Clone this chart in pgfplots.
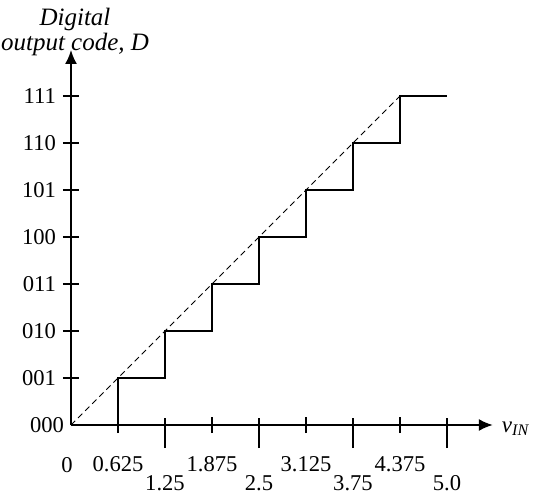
\documentclass[border=0pt]{standalone}
\usepackage{fontspec}
\setmainfont{Liberation Serif}
\usepackage{pgfplots}
\pgfplotsset{compat=1.18}
\usetikzlibrary{arrows.meta}
\begin{document}
\begin{tikzpicture}
\begin{axis}[
  at={(0,0)}, anchor=origin,
  x=37.6pt, y=23.5pt,
  xmin=0, xmax=5.61, ymin=0, ymax=7.98,
  axis lines=left,
  axis line style={line width=1pt, -{Latex[length=7pt,width=6pt]}},
  clip=false,
  tick align=center,
  tick style={black, line width=0.8pt},
  major tick length=8pt,
  ytick={1,...,7},
  yticklabels={001,010,011,100,101,110,111},
  extra y ticks={0},
  extra y tick labels={000},
  extra y tick style={major tick length=0pt},
  yticklabel style={anchor=east, xshift=0pt},
  xtick={0.625,1.875,3.125,4.375},
  xticklabels={0.625,1.875,3.125,4.375},
  xticklabel style={anchor=center, yshift=-15.5pt},
  extra x ticks={1.25,2.5,3.75,5},
  extra x tick labels={1.25,2.5,3.75,5.0},
  extra x tick style={major tick length=15pt, major tick style={yshift=-4pt},
     xticklabel style={yshift=-6pt}},
  ticklabel style={font=\fontsize{11.3}{11}\selectfont},
  xlabel={\textit{v}\textsubscript{\textit{IN}}},
  xlabel style={at={(axis description cs:1,0)}, anchor=base west, xshift=1pt, yshift=-3.5pt, font=\fontsize{11.5}{11}\selectfont},
  ylabel={\textit{Digital}\\\textit{output code, D}},
  ylabel style={at={(axis description cs:0,1)}, rotate=-90, anchor=south, align=center, inner sep=0pt, xshift=2pt, yshift=-3pt, font=\fontsize{12.5}{10}\selectfont},
]
\addplot[black, line width=1pt] coordinates {
 (0.625,0) (0.625,1) (1.25,1) (1.25,2) (1.875,2) (1.875,3) (2.5,3) (2.5,4)
 (3.125,4) (3.125,5) (3.75,5) (3.75,6) (4.375,6) (4.375,7) (5.0,7)};
\addplot[black, line width=0.5pt, dash pattern=on 3pt off 2pt] coordinates {(0,0) (4.375,7)};
\node[anchor=center, font=\fontsize{11.3}{11}\selectfont] at (axis cs:0,0) [xshift=-2pt, yshift=-20pt] {0};
\end{axis}
\pgfresetboundingbox
\path (-35.5pt,-35.5pt) rectangle (231pt,212.5pt);
\end{tikzpicture}
\end{document}
